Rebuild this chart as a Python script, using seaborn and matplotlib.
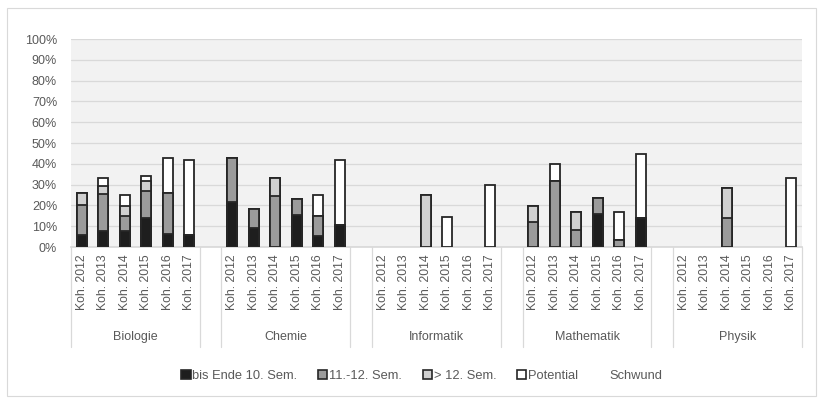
import matplotlib
matplotlib.use("Agg")
import matplotlib.pyplot as plt
import seaborn as sns
import pandas as pd
from matplotlib.patches import Patch, Rectangle
from matplotlib.lines import Line2D
from matplotlib.ticker import PercentFormatter
from matplotlib.transforms import blended_transform_factory

# ---- data (share of each cohort, in percent) ----
subjects = ["Biologie", "Chemie", "Informatik", "Mathematik", "Physik"]
cohorts = ["Koh. 2012", "Koh. 2013", "Koh. 2014", "Koh. 2015", "Koh. 2016", "Koh. 2017"]

bis_ende_10_sem = {
    "Biologie":   [6.0, 7.5, 7.5, 13.8, 6.2, 5.6],
    "Chemie":     [21.4, 9.1, 0.0, 15.4, 5.1, 10.7],
    "Informatik": [0.0, 0.0, 0.0, 0.0, 0.0, 0.0],
    "Mathematik": [0.0, 0.0, 0.0, 16.0, 0.0, 13.8],
    "Physik":     [0.0, 0.0, 0.0, 0.0, 0.0, 0.0],
}
sem_11_12 = {
    "Biologie":   [14.2, 18.1, 7.2, 13.1, 20.0, 0.0],
    "Chemie":     [21.2, 9.1, 24.6, 7.7, 9.6, 0.0],
    "Informatik": [0.0, 0.0, 0.0, 0.0, 0.0, 0.0],
    "Mathematik": [12.2, 31.7, 8.3, 7.7, 3.5, 0.0],
    "Physik":     [0.0, 0.0, 14.1, 0.0, 0.0, 0.0],
}
ueber_12_sem = {
    "Biologie":   [6.0, 3.5, 5.1, 4.8, 0.0, 0.0],
    "Chemie":     [0.0, 0.0, 8.5, 0.0, 0.0, 0.0],
    "Informatik": [0.0, 0.0, 25.0, 0.0, 0.0, 0.0],
    "Mathematik": [7.7, 0.0, 8.3, 0.0, 0.0, 0.0],
    "Physik":     [0.0, 0.0, 14.2, 0.0, 0.0, 0.0],
}
potential = {
    "Biologie":   [0.0, 4.2, 5.0, 2.2, 16.4, 36.3],
    "Chemie":     [0.0, 0.0, 0.0, 0.0, 10.3, 31.2],
    "Informatik": [0.0, 0.0, 0.0, 14.3, 0.0, 30.0],
    "Mathematik": [0.0, 8.0, 0.0, 0.0, 13.1, 30.7],
    "Physik":     [0.0, 0.0, 0.0, 0.0, 0.0, 33.3],
}

series_names = ["bis Ende 10. Sem.", "11.-12. Sem.", "> 12. Sem.", "Potential"]
series_data = [bis_ende_10_sem, sem_11_12, ueber_12_sem, potential]
series_colors = ["#1e1e1e", "#9b9b9b", "#d0d0d0", "#ffffff"]
edge_col = "#262626"
text_col = "#595959"

# ---- category slots: six cohorts per subject, one empty slot between subjects ----
slot_order, slot_labels = [], []
for gi, subj in enumerate(subjects):
    for c in cohorts:
        slot_order.append(f"{subj} {c}")
        slot_labels.append(c)
    if gi < len(subjects) - 1:
        slot_order.append(f"gap {gi}")
        slot_labels.append("")

rows = []
for subj in subjects:
    for ci, c in enumerate(cohorts):
        cum = 0.0
        for name, data in zip(series_names, series_data):
            cum += data[subj][ci]
            rows.append({"slot": f"{subj} {c}", "series": name, "top": cum / 100.0})
df = pd.DataFrame(rows)

sns.set_theme(style="white")
plt.rcParams["font.family"] = ["Liberation Sans", "DejaVu Sans"]

fig = plt.figure(figsize=(8.23, 4.03), dpi=100)
ax = fig.add_axes([71 / 823, 1 - 247 / 403, 731 / 823, 208 / 403])
ax.set_facecolor("#f2f2f2")

# stacked bars: draw cumulative tops from the highest series downwards
for name, color in reversed(list(zip(series_names, series_colors))):
    sub = df[(df["series"] == name) & (df["top"] > 0)]
    sns.barplot(data=sub, x="slot", y="top", order=slot_order, color=color,
                saturation=1, edgecolor=edge_col, linewidth=1.3, width=0.45,
                errorbar=None, ax=ax, zorder=3)

ax.set_xlim(-0.5, len(slot_order) - 0.5)
ax.set_ylim(0, 1)
ax.set_yticks([i / 10 for i in range(11)])
ax.yaxis.set_major_formatter(PercentFormatter(1, decimals=0))
ax.grid(axis="y", color="#d9d9d9", linewidth=0.9, zorder=0)
ax.set_axisbelow(True)
ax.set_xlabel("")
ax.set_ylabel("")
for side in ["top", "right", "left"]:
    ax.spines[side].set_visible(False)
ax.spines["bottom"].set_color("#d9d9d9")

ax.set_xticks(range(len(slot_order)))
ax.set_xticklabels(slot_labels, rotation=90, fontsize=8.8, color=text_col)
ax.tick_params(axis="x", length=0, pad=5)
ax.tick_params(axis="y", length=0, pad=10, labelsize=9, labelcolor=text_col)

# subject labels and separators below the axis
trans = blended_transform_factory(ax.transData, ax.transAxes)
y_line = -100 / 208
for gi, subj in enumerate(subjects):
    start = gi * 7
    left, right = start - 0.5, start + 5.5
    for xv in (left, right):
        ax.add_line(Line2D([xv, xv], [0, y_line], transform=trans, color="#d9d9d9",
                           linewidth=0.9, clip_on=False))
    ax.text((left + right) / 2, -90 / 208, subj, transform=trans, ha="center",
            va="center", fontsize=9, color=text_col)

# legend
handles = [Patch(facecolor=c, edgecolor=edge_col, linewidth=1.2) for c in series_colors]
handles.append(Patch(facecolor="none", edgecolor="none"))
labels = series_names + ["Schwund"]
leg = fig.legend(handles, labels, ncol=5, loc="center", bbox_to_anchor=(422 / 823, 1 - 376 / 403),
                 frameon=False, fontsize=9.3, handlelength=0.7, handleheight=0.7,
                 handletextpad=0.15, columnspacing=1.6)
for t in leg.get_texts():
    t.set_color(text_col)

# chart border
fig.patches.append(Rectangle((7.5 / 823, 7.5 / 403), 808 / 823, 388 / 403, transform=fig.transFigure,
                             fill=False, edgecolor="#d9d9d9", linewidth=0.8))

fig.savefig("out.png", dpi=100, facecolor="white")
